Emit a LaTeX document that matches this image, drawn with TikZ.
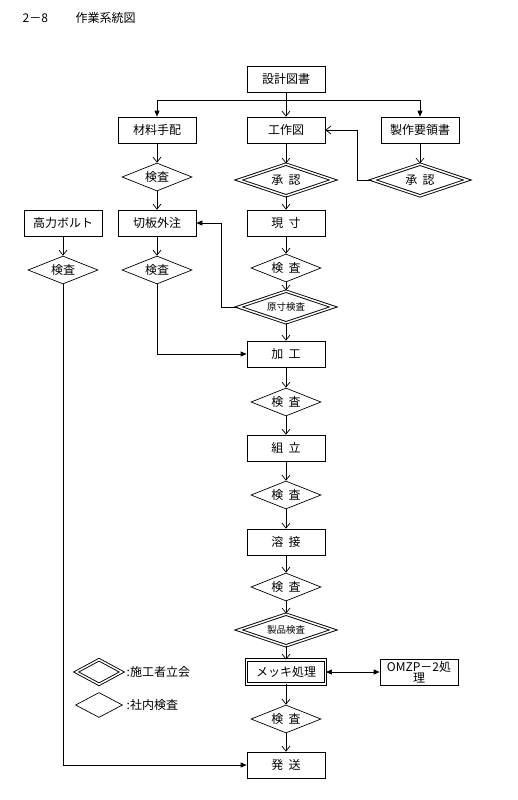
\documentclass[tikz,border=0pt]{standalone}
\usepackage{fontspec}
\setmainfont{Noto Sans CJK JP}
\usetikzlibrary{arrows.meta,positioning,shapes.geometric}

\newcommand{\gap}{\hspace{0.45em}}

\begin{document}
\begin{tikzpicture}[
  x=1pt, y=-1pt,
  line width=0.7pt,
  every node/.style={font=\fontsize{12}{13}\selectfont},
  box/.style={draw, minimum width=78pt, minimum height=26pt, inner sep=1pt},
  dbox/.style={box, line width=0.9pt, double, double distance=1.5pt,
               minimum width=79pt, minimum height=24pt},
  chk/.style={draw, diamond, aspect=2.5, inner sep=0pt,
              minimum width=70pt, minimum height=28pt},
  dchk/.style={chk, line width=0.9pt, double, double distance=1.5pt,
               minimum width=95pt, minimum height=32pt},
  arr/.style={-{Straight Barb[length=5pt,width=8pt]}},
  farr/.style={-{Triangle[length=6pt,width=5pt]}},
]
\useasboundingbox (0,0) rectangle (517,800);

% title
\node[anchor=west] (no) at (19,18) {2－8};
\node[anchor=west] (ttl) at (72,18) {作業系統図};

% top row
\node[box] (sekkei) at (286,79) {設計図書};
\node[box] (zairyo) at (157,130) {材料手配};
\node[box] (kousaku) at (286,130) {工作図};
\node[box] (seisaku) at (420,130) {製作要領書};
\coordinate (br) at (286,100);

\node[chk] (kenA) at (157,177) {検査};
\node[dchk] (shoA) at (286,180) {承\gap 認};
\node[dchk] (shoB) at (420,180) {承\gap 認};

% second row
\node[box] (bolt) at (63,223) {高力ボルト};
\node[box] (kiri) at (157,223) {切板外注};
\node[box] (genzun) at (286,223) {現\gap 寸};

\node[chk] (kenB) at (63,270) {検査};
\node[chk] (kenC) at (157,270) {検査};
\node[chk] (kenD) at (286,268) {検\gap 査};
\node[dchk, font=\fontsize{9.5}{10}\selectfont] (gsk) at (286,307) {原寸検査};

% main line
\node[box] (kakou) at (286,354) {加\gap 工};
\node[chk] (kenE) at (286,402) {検\gap 査};
\node[box] (kumi) at (286,448) {組\gap 立};
\node[chk] (kenF) at (286,495) {検\gap 査};
\node[box] (yousetsu) at (286,542) {溶\gap 接};
\node[chk] (kenG) at (286,587) {検\gap 査};
\node[dchk, font=\fontsize{9.5}{10}\selectfont] (seihin) at (286,630) {製品検査};
\node[dbox] (mekki) at (286,672) {メッキ処理};
\node[box, align=center, inner sep=0pt,
      font=\fontsize{12}{11}\selectfont] (omzp) at (419,672) {OMZP－2処\\理};
\node[chk] (kenH) at (286,719) {検\gap 査};
\node[box] (hassou) at (286,765) {発\gap 送};

% legend
\node[dchk, minimum width=46pt, minimum height=25pt] (legA) at (99,672) {};
\node[anchor=west] (legAt) at (123,672) {:施工者立会};
\node[chk, minimum width=47pt, minimum height=25pt] (legB) at (99,705) {};
\node[anchor=west] (legBt) at (123,705) {:社内検査};

% connectors
\draw[arr] (sekkei) -- (kousaku);
\draw[farr] (sekkei.south) -- (br) -| (zairyo);
\draw[farr] (br) -| (seisaku);
\draw[arr] (zairyo) -- (kenA);
\draw[arr] (kenA) -- (kiri);
\draw[arr] (kousaku) -- (shoA);
\draw[arr] (shoA) -- (genzun);
\draw[arr] (seisaku) -- (shoB);
\draw[arr] (shoB.west) -- ++(-15,0) |- (kousaku.east);

\draw[arr] (bolt) -- (kenB);
\draw[farr] (kenB.south) |- (hassou.west);
\draw[arr] (kiri) -- (kenC);
\draw[farr] (kenC.south) |- (kakou.west);
\draw[arr] (genzun) -- (kenD);
\draw[arr] (kenD) -- (gsk);
\draw[farr] (gsk.west) -- ++(-17,0) |- (kiri.east);
\draw[arr] (gsk) -- (kakou);

\draw[arr] (kakou) -- (kenE);
\draw[arr] (kenE) -- (kumi);
\draw[arr] (kumi) -- (kenF);
\draw[arr] (kenF) -- (yousetsu);
\draw[arr] (yousetsu) -- (kenG);
\draw[arr] (kenG) -- (seihin);
\draw[arr] (seihin) -- (mekki);
\draw[{Triangle[length=6pt,width=5pt]}-{Triangle[length=6pt,width=5pt]}] (mekki) -- (omzp);
\draw[arr] (mekki) -- (kenH);
\draw[arr] (kenH) -- (hassou);
\end{tikzpicture}
\end{document}
